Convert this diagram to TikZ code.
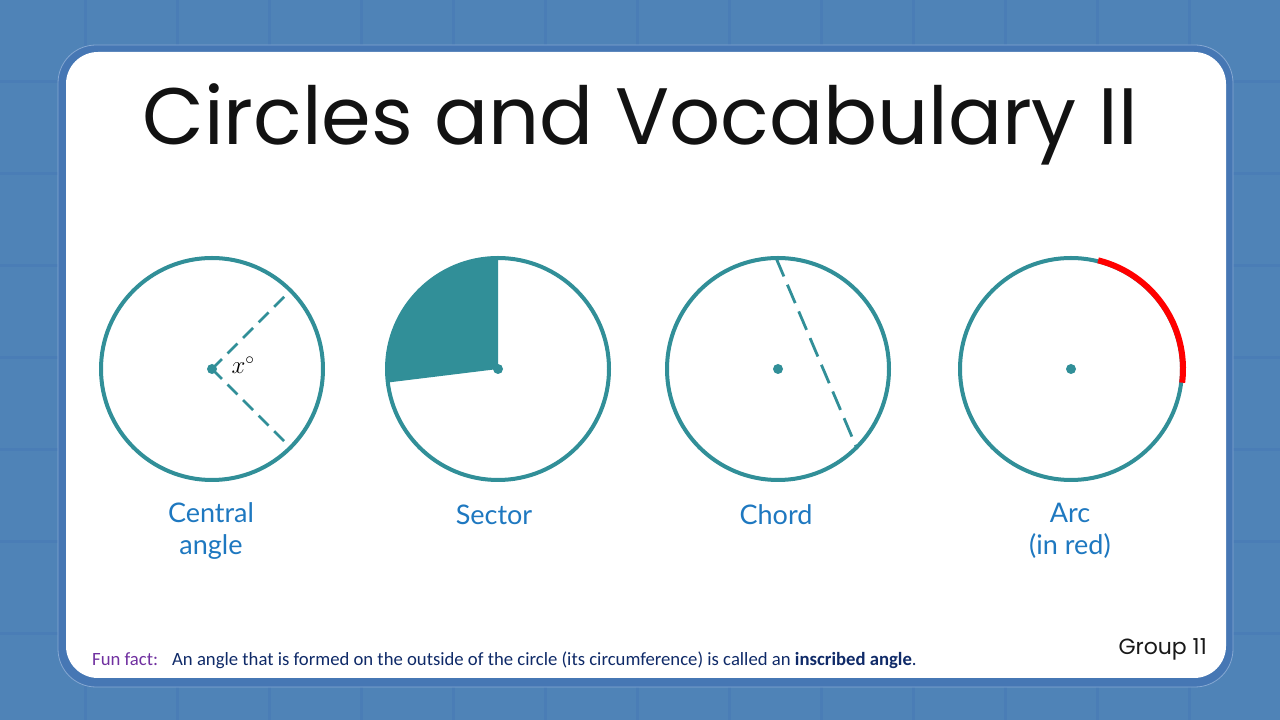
\documentclass[tikz,border=0pt]{standalone}
\usepackage{fontspec}
\newfontfamily\poppins{Poppins}
\newfontfamily\lato{Lato}
\newfontfamily\carlito{Carlito}
\definecolor{bgblue}{HTML}{4F83B7}
\definecolor{gridblue}{HTML}{4A7DB6}
\definecolor{frameblue}{HTML}{4677B4}
\definecolor{framelight}{HTML}{86A8D2}
\definecolor{teal}{HTML}{318F98}
\definecolor{labelblue}{HTML}{1E78C0}
\definecolor{funpurple}{HTML}{7030A0}
\definecolor{navy}{HTML}{0F2A68}
\definecolor{arcred}{HTML}{FF0000}
\tikzset{
  ring/.style={circle, draw=teal, line width=4pt, minimum size=222pt, inner sep=0pt},
  cdot/.style={circle, fill=teal, minimum size=10pt, inner sep=0pt},
  dashline/.style={draw=teal, line width=2.8pt, dash pattern=on 14pt off 8pt},
  lbl/.style={text=labelblue, font=\lato\fontsize{27}{32}\selectfont, align=center, inner sep=0pt},
}
\begin{document}
\begin{tikzpicture}[x=1pt,y=1pt]
\useasboundingbox (0,0) rectangle (1280,720);
% background
\fill[bgblue] (0,0) rectangle (1280,720);
\foreach \gx in {-7,85,...,1300} \draw[gridblue, line width=3pt] (\gx,0) -- (\gx,720);
\foreach \gy in {-6,86,...,730} \draw[gridblue, line width=3pt] (0,\gy) -- (1280,\gy);
% card
\draw[framelight, fill=frameblue, line width=0.8pt, rounded corners=38pt] (58,33) rectangle (1233,675);
\fill[white, rounded corners=32pt] (66,42) rectangle (1226,668);
% title
\node[anchor=base, inner sep=0pt, font=\poppins\fontsize{80}{84}\selectfont, text=black!93] (title) at (640,575) {Circles and Vocabulary II};
% circle 1: central angle
\node[ring] (c1) at (212,351) {};
\node[cdot] (d1) at (c1.center) {};
\coordinate (a1) at ([shift={(45:103)}]c1.center);
\coordinate (b1) at ([shift={(-45:103)}]c1.center);
\draw[dashline] (d1.center) -- (a1);
\draw[dashline] (d1.center) -- (b1);
\node[inner sep=0pt, font=\fontsize{26}{30}\selectfont] (xdeg) at (243,355) {$x^{\circ}$};
% circle 2: sector
\coordinate (c2c) at (498,351);
\fill[teal] (c2c) -- ([shift={(90:111)}]c2c) arc[start angle=90, end angle=187, radius=111] -- cycle;
\node[ring] (c2) at (c2c) {};
\node[cdot] (d2) at (c2.center) {};
% circle 3: chord
\node[ring] (c3) at (778,351) {};
\node[cdot] (d3) at (c3.center) {};
\coordinate (p3) at ([shift={(91:111)}]c3.center);
\coordinate (q3) at ([shift={(-45:111)}]c3.center);
\draw[dashline, dash pattern=on 20pt off 9pt] (p3) -- (q3);
% circle 4: arc
\node[ring] (c4) at (1071,351) {};
\node[cdot] (d4) at (c4.center) {};
\coordinate (r4) at ([shift={(76:112)}]c4.center);
\draw[arcred, line width=6pt] (r4) arc[start angle=76, end angle=-7, radius=112];
% labels
\node[lbl] (l1) at (211,189) {Central\\angle};
\node[lbl] (l2) at (494,205) {Sector};
\node[lbl] (l3) at (776,205) {Chord};
\node[lbl] (l4) at (1070,189) {Arc\\(in red)};
% footer
\node[anchor=base west, inner sep=0pt, text=navy, font=\carlito\fontsize{18.7}{22}\selectfont] (fun) at (92,54)
  {{\color{funpurple}Fun fact:}\hspace{14pt}An angle that is formed on the outside of the circle (its circumference) is called an \textbf{inscribed angle}.};
\node[anchor=base east, inner sep=0pt, text=black!90, font=\poppins\fontsize{22}{26}\selectfont] (grp) at (1207,65) {Group 11};
\end{tikzpicture}
\end{document}
